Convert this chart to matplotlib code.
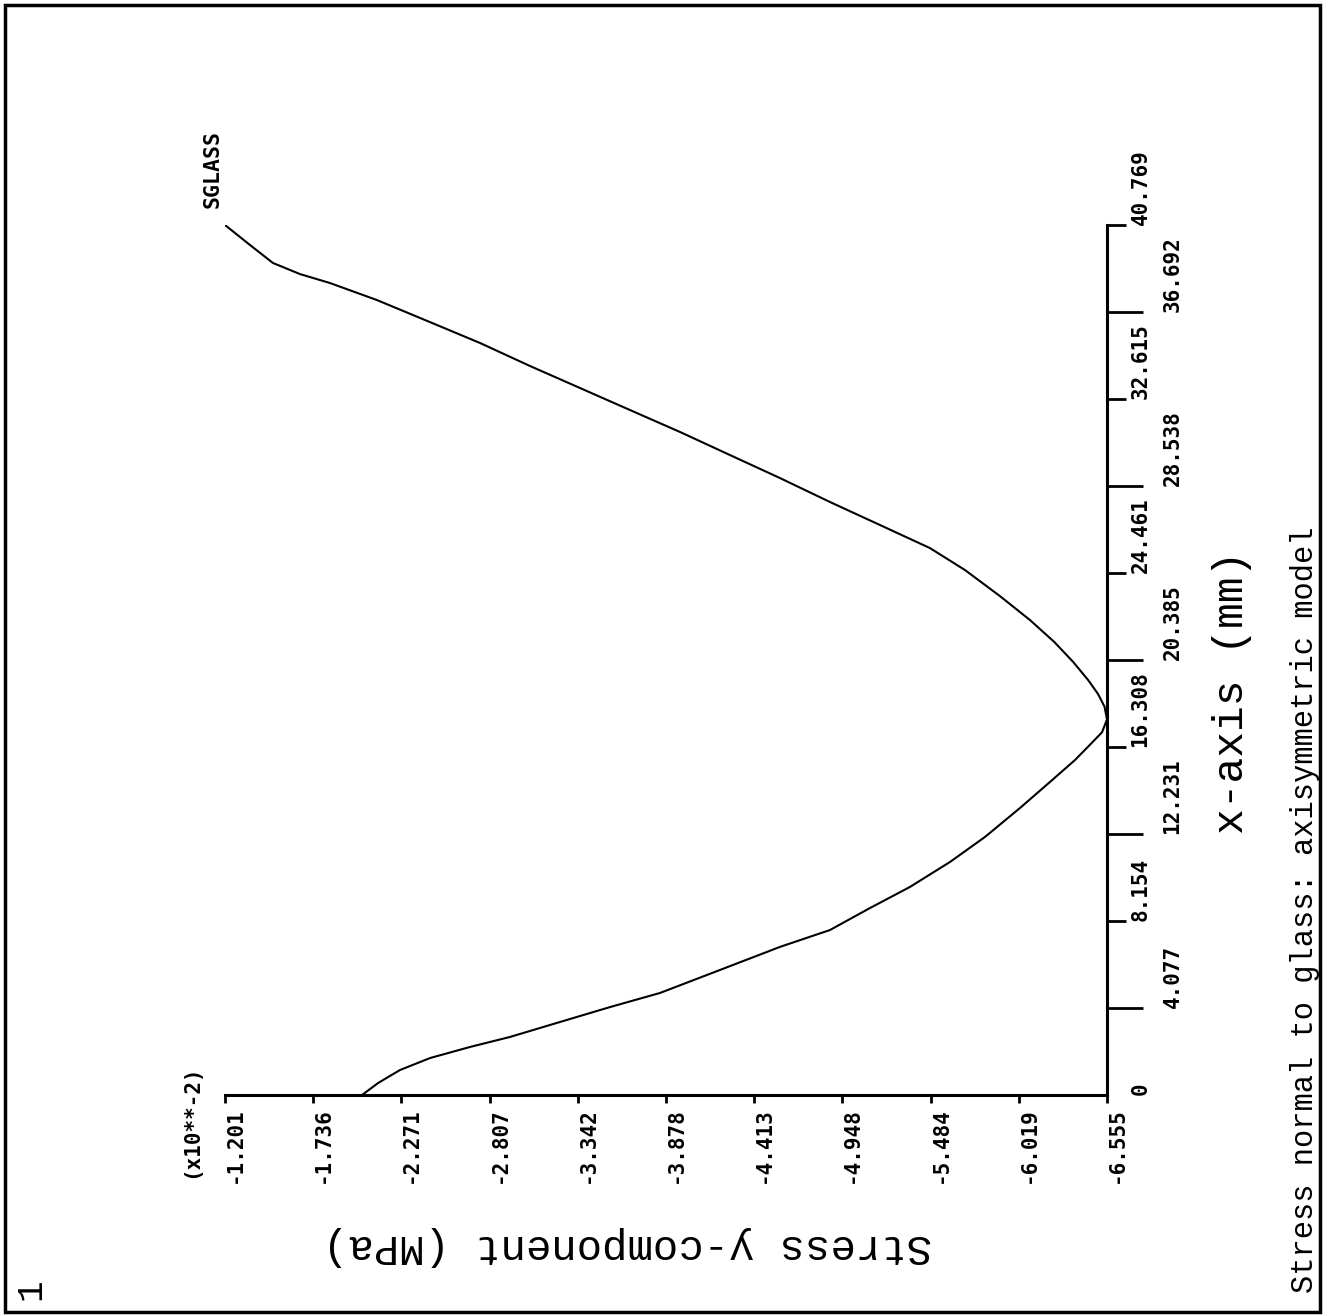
import matplotlib
matplotlib.use('Agg')
import matplotlib.pyplot as plt
from matplotlib.patches import Rectangle

# ---- data (x position along glass in mm, stress y-component x10**-2 MPa) ----
x_mm = [0.0, 0.56, 1.17, 1.73, 2.25, 2.72, 3.42, 4.12, 4.78, 5.86, 6.94, 7.73,
        8.76, 9.75, 10.92, 12.09, 13.45, 14.67, 15.70, 16.40, 17.00, 17.60,
        18.20, 18.80, 19.45, 20.29, 21.23, 22.26, 23.38, 24.60, 25.63, 26.71, 27.79,
        28.91, 29.99, 31.07, 32.10, 33.13, 34.16, 35.24, 36.22, 37.25, 38.05,
        38.47, 38.99, 39.83, 40.769]
stress = [-2.033, -2.130, -2.263, -2.445, -2.688, -2.931, -3.234, -3.538, -3.841,
          -4.206, -4.570, -4.873, -5.116, -5.359, -5.602, -5.814, -6.027, -6.209,
          -6.361, -6.450, -6.525, -6.555,
          -6.540, -6.500, -6.440, -6.350, -6.235, -6.087, -5.905, -5.693, -5.480, -5.177,
          -4.873, -4.570, -4.266, -3.963, -3.659, -3.356, -3.053, -2.749, -2.445,
          -2.124, -1.838, -1.656, -1.492, -1.353, -1.201]

stress_ticks = [-1.201, -1.736, -2.271, -2.807, -3.342, -3.878, -4.413, -4.948,
                -5.484, -6.019, -6.555]
stress_ticklabels = ['-1.201', '-1.736', '-2.271', '-2.807', '-3.342', '-3.878',
                     '-4.413', '-4.948', '-5.484', '-6.019', '-6.555']
x_major = [0.0, 8.154, 16.308, 24.461, 32.615, 40.769]
x_major_labels = ['0', '8.154', '16.308', '24.461', '32.615', '40.769']
x_minor = [4.077, 12.231, 20.385, 28.538, 36.692]
x_minor_labels = ['4.077', '12.231', '20.385', '28.538', '36.692']

series_name = 'SGLASS'
scale_note = '(x10**-2)'
stress_label = 'Stress y-component (MPa)'
xaxis_label = 'x-axis (mm)'
title = 'Stress normal to glass: axisymmetric model'
page_no = '1'

W, H = 1327, 1315
def fx(px):
    return px / W
def fy(py):
    return 1 - py / H

TICKFONT = dict(family='DejaVu Sans Mono', weight='bold', size=15)
LABFONT = 'Liberation Mono'

fig = plt.figure(figsize=(W / 100, H / 100), dpi=100)
fig.patch.set_facecolor('white')
ax = fig.add_axes([fx(225), fy(1095), (1107 - 225) / W, (1095 - 225) / H])
ax.set_facecolor('none')
ax.plot(stress, x_mm, color='black', lw=1.5, solid_joinstyle='round')
ax.set_xlim(-1.201, -6.555)
ax.set_ylim(0, 40.769)

for s in ['top', 'left']:
    ax.spines[s].set_visible(False)
for s in ['bottom', 'right']:
    ax.spines[s].set_linewidth(2.2)

# horizontal (stress) axis
ax.set_xticks(stress_ticks)
ax.set_xticklabels(stress_ticklabels, rotation=90, ha='left', va='top', **TICKFONT)
ax.tick_params(axis='x', direction='out', length=6, width=2, pad=3)

# vertical (x-axis mm) axis, on the right
ax.yaxis.tick_right()
ax.set_yticks(x_major)
ax.set_yticklabels(x_major_labels, rotation=90, va='bottom', ha='left', **TICKFONT)
ax.set_yticks(x_minor, minor=True)
ax.set_yticklabels(x_minor_labels, minor=True, rotation=90, va='bottom', ha='left', **TICKFONT)
ax.tick_params(axis='y', which='major', direction='out', length=14, width=2, pad=3)
ax.tick_params(axis='y', which='minor', direction='out', length=26, width=2, pad=14)
ax.yaxis.get_major_ticks()[0].tick2line.set_visible(False)

# axis labels
ax.set_xlabel(stress_label, rotation=180, family=LABFONT, size=30.5, ha='center', va='center')
ax.xaxis.set_label_coords((627 - 225) / 882, (1095 - 1246) / 870)
ax.yaxis.set_label_position('right')
ax.set_ylabel(xaxis_label, rotation=90, family=LABFONT, size=31, ha='center', va='center')
ax.yaxis.set_label_coords((1232 - 225) / 882, (1095 - 692) / 870)

# annotations
fig.text(fx(213), fy(208), series_name, rotation=90, ha='center', va='bottom',
         family='DejaVu Sans Mono', weight='bold', size=15.5)
fig.text(fx(191), fy(1178), scale_note, rotation=90, ha='center', va='bottom',
         family='DejaVu Sans Mono', weight='bold', size=15)
fig.text(fx(1305), fy(910), title, rotation=90, ha='center', va='center',
         family=LABFONT, size=22)
fig.text(fx(31), fy(1289), page_no, rotation=90, ha='center', va='center',
         family=LABFONT, size=26)

# page frame
fig.add_artist(Rectangle((fx(5), fy(1312)), fx(1320) - fx(5), fy(5) - fy(1312),
                         transform=fig.transFigure, fill=False, lw=2.5, edgecolor='black'))

fig.savefig('out.png', dpi=100, facecolor='white')
